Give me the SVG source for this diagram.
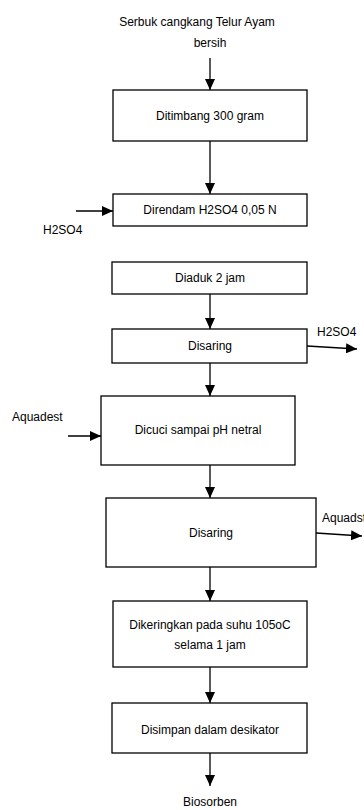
<svg xmlns="http://www.w3.org/2000/svg" width="364" height="810" viewBox="0 0 364 810">
<style>
.box{fill:#fff;stroke:#000;stroke-width:1.3}
.t{font-family:"Liberation Sans",Arial,sans-serif;font-size:12px;fill:#000}
.c{text-anchor:middle}
.con line{stroke:#000;stroke-width:1.3;marker-end:url(#ah)}
</style>
<defs>
<marker id="ah" markerUnits="userSpaceOnUse" markerWidth="12" markerHeight="11" refX="11" refY="5" orient="auto">
<path d="M0,0 L11,5 L0,10 z" fill="#000"/>
</marker>
</defs>
<rect width="364" height="810" fill="#fff"/>
<g id="start">
<text class="t c" x="197" y="26">Serbuk cangkang Telur Ayam</text>
<text class="t c" x="210" y="47">bersih</text>
</g>
<g id="ditimbang"><rect class="box" x="113" y="90" width="194" height="51"/><text class="t c" x="210" y="120">Ditimbang 300 gram</text></g>
<g id="direndam"><rect class="box" x="113" y="194" width="194" height="32"/><text class="t c" x="210" y="214">Direndam H2SO4 0,05 N</text></g>
<g id="h2so4-in"><text class="t" x="43" y="234">H2SO4</text></g>
<g id="diaduk"><rect class="box" x="112" y="262" width="195" height="32"/><text class="t c" x="210" y="282">Diaduk 2 jam</text></g>
<g id="disaring1"><rect class="box" x="112" y="329" width="195" height="34"/><text class="t c" x="210" y="350">Disaring</text></g>
<g id="h2so4-out"><text class="t" x="317" y="336">H2SO4</text></g>
<g id="aquadest-in"><text class="t" x="12" y="421">Aquadest</text></g>
<g id="dicuci"><rect class="box" x="101" y="396" width="194" height="69"/><text class="t c" x="198" y="434">Dicuci sampai pH netral</text></g>
<g id="disaring2"><rect class="box" x="106" y="498" width="210" height="69"/><text class="t c" x="211" y="537">Disaring</text></g>
<g id="aquadst-out"><text class="t" x="322" y="522">Aquadst</text></g>
<g id="dikeringkan"><rect class="box" x="113" y="601" width="194" height="66"/><text class="t c" x="210" y="629">Dikeringkan pada suhu 105oC</text><text class="t c" x="210" y="649">selama 1 jam</text></g>
<g id="disimpan"><rect class="box" x="112" y="703" width="195" height="50"/><text class="t c" x="210" y="734">Disimpan dalam desikator</text></g>
<g id="biosorben"><text class="t c" x="210" y="806">Biosorben</text></g>
<g class="con" id="connectors">
<line x1="210" y1="58" x2="210" y2="90"/>
<line x1="210" y1="141" x2="210" y2="194"/>
<line x1="76" y1="211" x2="113" y2="211"/>
<line x1="210" y1="294" x2="210" y2="329"/>
<line x1="307" y1="346" x2="357" y2="349"/>
<line x1="210" y1="363" x2="210" y2="396"/>
<line x1="68" y1="436" x2="101" y2="436"/>
<line x1="210" y1="465" x2="210" y2="498"/>
<line x1="316" y1="533" x2="362" y2="536"/>
<line x1="210" y1="567" x2="210" y2="601"/>
<line x1="210" y1="667" x2="210" y2="703"/>
<line x1="210" y1="753" x2="210" y2="786"/>
</g>
</svg>
